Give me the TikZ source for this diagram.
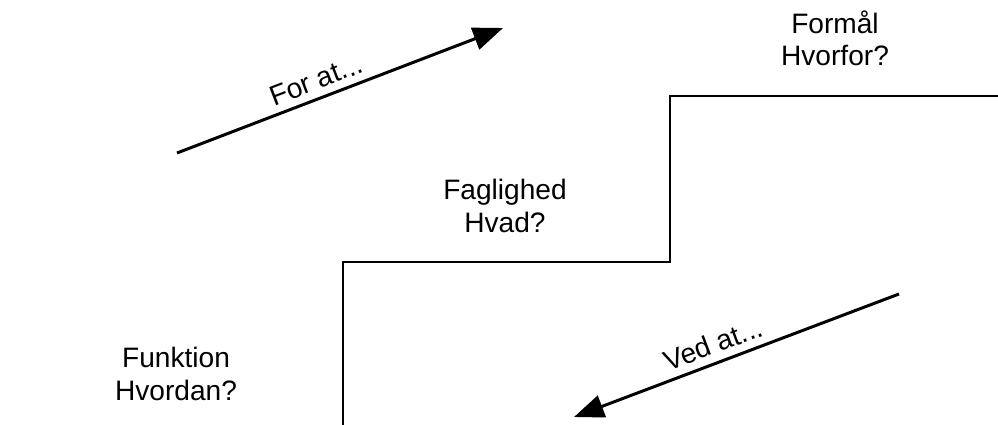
\documentclass[tikz,border=0pt]{standalone}
\usepackage{fontspec}
\setmainfont{Liberation Sans}
\usetikzlibrary{arrows.meta}
\tikzset{
	stairLine/.style={
		draw=black
		,line width=1.7pt
	},
	flowArrow/.style={
		draw=black
		,line width=1.7pt
		,-{Triangle[length=17pt, width=13pt]}
	},
	levelText/.style={
		align=center
		,font=\fontsize{16pt}{18.3pt}\selectfont
		,text=black
	},
	arrowText/.style={
		font=\fontsize{16pt}{18.3pt}\selectfont
		,text=black
		,inner sep=2pt
	},
}
\begin{document}
\begin{tikzpicture}[x=0.02cm, y=-0.02cm]
\useasboundingbox (0,0) rectangle (998,425);

% stair corners
\coordinate (S0) at (343,428);
\coordinate (S1) at (343,262);
\coordinate (S2) at (670,262);
\coordinate (S3) at (670,96);
\coordinate (S4) at (1001,96);
\draw[stairLine] (S0) -- (S1) -- (S2) -- (S3) -- (S4);

% levels
\node[levelText] (formaal) at (835,38) {Formål\\Hvorfor?};
\node[levelText] (faglighed) at (505,206) {Faglighed\\Hvad?};
\node[levelText] (funktion) at (176,374) {Funktion\\Hvordan?};

% arrows
\coordinate (upA) at (177,153);
\coordinate (upB) at (503,28);
\coordinate (downA) at (899,294);
\coordinate (downB) at (574,417);
\draw[flowArrow] (upA) -- (upB);
\draw[flowArrow] (downA) -- (downB);

\node[arrowText, rotate=21] (forat) at (316,80) {For at...};
\node[arrowText, rotate=20.5] (vedat) at (713,344) {Ved at...};

\end{tikzpicture}
\end{document}
